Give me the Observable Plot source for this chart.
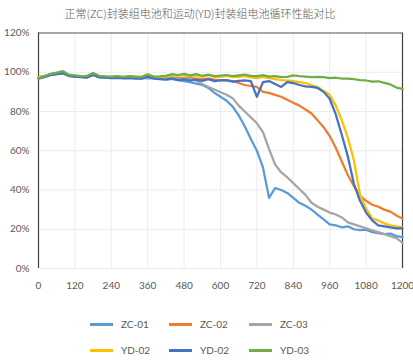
<!DOCTYPE html>
<html><head><meta charset="utf-8">
<script src="https://cdn.jsdelivr.net/npm/d3@7"></script>
<script src="https://cdn.jsdelivr.net/npm/@observablehq/plot@0.6"></script>
<style>
body{margin:0;background:#fff;}
#wrap{position:relative;width:413px;height:364px;overflow:hidden;background:#fff}
#title{position:absolute;left:0;top:5px;width:400px;text-align:center;font-size:11px;line-height:16px;color:#595959;font-weight:300;font-family:"Noto Sans CJK SC",sans-serif;}
#chart{position:absolute;left:0;top:20px}
.sw{position:absolute;height:3px;width:23px}
.lb{position:absolute;font-family:Lato,sans-serif;font-size:10px;line-height:12px;color:#595959}
</style></head>
<body><div id="wrap">
<div id="title">正常(ZC)封装组电池和运动(YD)封装组电池循环性能对比</div>
<div id="chart"></div>
<div id="legend"></div>
</div>
<script>
const cycles = [0,20,40,60,80,100,120,140,160,180,200,220,240,260,280,300,320,340,360,380,400,420,440,460,480,500,520,540,560,580,600,620,640,660,680,700,720,740,760,780,800,820,840,860,880,900,920,940,960,980,1000,1020,1040,1060,1080,1100,1120,1140,1160,1180,1200];
const xTicks = [0,120,240,360,480,600,720,840,960,1080,1200];
const yTicks = [0,20,40,60,80,100,120];

const ZC01 = [97.5,98.2,99.0,99.3,99.6,98.4,98.0,97.8,97.6,98.6, 97.8,97.5,97.3,97.4,97.2,97.3,97.0,97.1,96.9,97.0, 96.8,96.5,96.6,96.0,95.5,95.0,94.2,93.5,92.0,89.5, 87.5,85.5,82.5,78.0,72.5,66.0,60.0,51.5,36.0,41.0, 40.0,38.5,36.0,33.5,32.0,30.0,27.5,25.0,22.5,22.0, 21.0,21.5,20.0,19.5,19.8,18.5,18.0,17.5,17.8,16.5,16.0];
const ZC02 = [97.0,97.8,98.6,99.0,99.4,98.3,97.9,97.6,97.5,98.8, 97.6,97.4,97.3,97.5,97.2,97.6,97.1,97.0,97.6,97.2, 97.0,97.2,97.4,96.9,97.2,97.0,96.8,96.5,96.8,96.2, 96.0,95.8,95.5,94.5,93.5,93.0,92.5,90.0,89.5,88.5, 87.5,86.0,84.5,83.0,81.0,79.0,75.5,72.0,67.5,61.5, 54.5,47.5,42.0,37.0,34.5,32.5,31.5,30.0,29.0,27.0,25.5];
const ZC03 = [97.2,97.6,98.8,99.2,99.8,98.0,97.8,97.7,97.4,99.0, 97.6,97.3,97.5,97.2,97.4,97.1,97.3,97.0,97.4,97.2, 97.0,96.8,97.0,96.7,96.8,96.5,95.8,94.0,92.5,91.2, 89.8,88.5,86.8,83.0,80.0,77.0,74.0,69.5,61.0,53.0, 49.0,46.5,43.5,40.5,37.5,33.5,31.5,30.0,28.5,27.5, 26.0,23.5,22.5,21.5,20.5,19.5,18.5,17.5,16.5,15.5,13.0];
const YD02a = [97.5,98.0,99.0,99.5,100.2,98.6,98.2,98.0,97.8,99.2, 98.0,97.8,97.6,97.7,97.5,97.8,97.6,97.4,98.8,97.6, 97.5,97.8,98.5,98.2,98.6,98.0,98.4,97.8,98.5,97.6, 97.8,98.2,97.5,97.6,98.0,97.4,97.0,97.6,97.0,96.5, 96.0,95.8,95.5,95.0,94.5,93.5,92.5,90.5,88.5,83.0, 75.5,66.5,55.0,37.5,30.5,25.5,24.5,23.0,22.0,21.5,21.0];
const YD02b = [96.8,97.5,98.6,99.0,99.6,98.2,97.8,97.5,97.3,98.6, 97.4,97.2,97.0,97.1,96.9,97.0,96.8,96.7,97.8,96.8, 96.5,96.2,96.8,96.0,96.4,95.8,96.2,95.6,96.5,95.5, 95.8,96.0,95.2,95.6,95.8,95.5,87.5,95.0,95.5,94.0, 92.5,95.0,94.5,93.5,92.8,92.5,92.0,90.0,86.5,78.5, 68.0,57.0,43.0,34.5,28.5,24.5,22.0,21.5,21.0,20.5,20.5];
const YD03 = [97.0,98.0,99.2,99.8,100.6,98.8,98.4,98.0,98.2,99.6, 98.2,97.9,97.8,98.0,97.7,98.0,97.8,97.6,99.0,97.8, 97.9,98.2,99.0,98.6,99.2,98.4,99.0,98.2,98.8,98.0, 98.3,98.6,98.0,98.4,98.8,98.2,98.0,98.5,97.8,98.0, 97.5,97.6,98.4,98.0,97.8,97.5,97.6,97.5,97.0,97.2, 96.8,96.7,96.5,96.0,95.8,95.2,95.4,94.6,93.8,92.2,91.5];

const seriesIds = ["zc01","zc02","zc03","yd02a","yd02b","yd03"];
const seriesNames = ["ZC-01","ZC-02","ZC-03","YD-02","YD-02","YD-03"];
const seriesColors = ["#5B9BD5","#ED7D31","#A5A5A5","#FFC000","#4472C4","#70AD47"];
const seriesValues = [ZC01, ZC02, ZC03, YD02a, YD02b, YD03];

const rows = seriesIds.flatMap((id, i) => seriesValues[i].map((v, j) => ({id, cycle: cycles[j], value: v})));

const chart = Plot.plot({
  width: 413, height: 280,
  marginTop: 12.5, marginBottom: 32, marginLeft: 38, marginRight: 11,
  style: {fontFamily: "Lato, sans-serif", fontSize: "10px", color: "#595959", background: "transparent", overflow: "visible"},
  x: {domain: [0, 1200], ticks: xTicks},
  y: {domain: [0, 120], ticks: yTicks},
  color: {domain: seriesIds, range: seriesColors},
  marks: [
    Plot.gridX(xTicks, {stroke: "#ececec", strokeOpacity: 1}),
    Plot.gridY(yTicks, {stroke: "#ececec", strokeOpacity: 1}),
    Plot.ruleY([120], {stroke: "#8c8c8c", strokeWidth: 1.5}),
    Plot.ruleX([0, 1200], {stroke: "#404040", strokeWidth: 1.2}),
    Plot.axisX(xTicks, {tickSize: 0, tickPadding: 13, tickFormat: d => String(d), label: null}),
    Plot.axisY(yTicks, {tickSize: 0, tickPadding: 9, tickFormat: d => d + "%", label: null}),
    Plot.line(rows, {x: "cycle", y: "value", z: "id", stroke: "id", strokeWidth: 2.25, strokeLinejoin: "round"})
  ]
});
document.getElementById("chart").append(chart);

const legend = document.getElementById("legend");
const colX = [90, 169, 249];
const rowY = [324, 350];
seriesIds.forEach((id, i) => {
  const c = i % 3, r = Math.floor(i / 3);
  const sw = document.createElement("div");
  sw.className = "sw";
  sw.style.left = colX[c] + "px";
  sw.style.top = (rowY[r] - 1.5) + "px";
  sw.style.background = seriesColors[i];
  legend.append(sw);
  const lb = document.createElement("div");
  lb.className = "lb";
  lb.style.left = (colX[c] + 31) + "px";
  lb.style.top = (rowY[r] - 6) + "px";
  lb.textContent = seriesNames[i];
  legend.append(lb);
});
</script>
</body></html>
